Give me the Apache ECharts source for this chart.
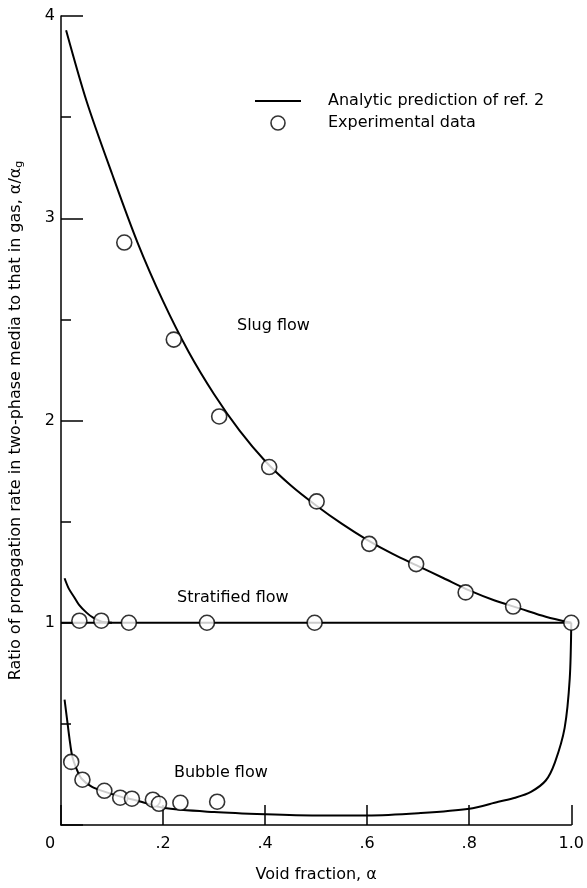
<!DOCTYPE html>
<html><head><meta charset="utf-8">
<script src="https://cdn.jsdelivr.net/npm/echarts@6/dist/echarts.min.js"></script>
<style>html,body{margin:0;padding:0;background:#fff}#c{width:587px;height:888px}</style>
</head><body><div id="c"></div>
<script>
// ---- data ----
const xTickLabels = ['0', '.2', '.4', '.6', '.8', '1.0'];
const yTickLabels = ['', '1', '2', '3', '4'];

const slugCurveX = [0.01, 0.05, 0.10, 0.15, 0.20, 0.25, 0.30, 0.35, 0.40, 0.45, 0.50, 0.55, 0.60, 0.65, 0.70, 0.75, 0.80, 0.85, 0.90, 0.95, 1.00];
const slugCurveY = [3.93, 3.58, 3.22, 2.88, 2.59, 2.34, 2.13, 1.95, 1.80, 1.68, 1.58, 1.49, 1.41, 1.34, 1.28, 1.22, 1.16, 1.11, 1.07, 1.03, 1.00];

const stratLineX = [0.0, 1.0];
const stratLineY = [1.0, 1.0];
const stratCurveX = [0.007, 0.015, 0.025, 0.035, 0.05, 0.063, 0.08, 0.10];
const stratCurveY = [1.22, 1.17, 1.13, 1.09, 1.05, 1.025, 1.005, 1.0];

const bubbleCurveX = [0.007, 0.012, 0.017, 0.022, 0.03, 0.04, 0.06, 0.085, 0.12, 0.15, 0.2, 0.3, 0.4, 0.5, 0.6, 0.7, 0.8, 0.857, 0.89, 0.921, 0.95, 0.968, 0.987, 0.997, 1.0];
const bubbleCurveY = [0.62, 0.52, 0.42, 0.34, 0.28, 0.23, 0.19, 0.165, 0.138, 0.12, 0.085, 0.064, 0.053, 0.047, 0.047, 0.058, 0.08, 0.115, 0.135, 0.164, 0.22, 0.31, 0.48, 0.725, 1.0];

const slugPtsX = [0.124, 0.221, 0.310, 0.408, 0.501, 0.604, 0.696, 0.793, 0.886, 1.0];
const slugPtsY = [2.88, 2.40, 2.02, 1.77, 1.60, 1.39, 1.29, 1.15, 1.08, 1.0];
const stratPtsX = [0.036, 0.079, 0.133, 0.286, 0.497];
const stratPtsY = [1.01, 1.01, 1.0, 1.0, 1.0];
const bubblePtsX = [0.020, 0.042, 0.085, 0.116, 0.139, 0.180, 0.192, 0.234, 0.306];
const bubblePtsY = [0.312, 0.224, 0.169, 0.135, 0.130, 0.125, 0.105, 0.110, 0.115];

const lineName = 'Analytic prediction of ref. 2';
const ptsName = 'Experimental data';

// ---- build ----
const zip = (xs, ys) => xs.map((x, i) => [x, ys[i]]);
const FONT = "'DejaVu Sans', sans-serif";
const curveStyle = { color: '#000', width: 2 };

function curve(xs, ys, smooth) {
  return {
    type: 'line', name: lineName, data: zip(xs, ys), showSymbol: false, symbol: 'none',
    smooth: smooth, lineStyle: curveStyle, itemStyle: { color: '#000' },
    z: 2, silent: true
  };
}
function pts(xs, ys) {
  return {
    type: 'scatter', name: ptsName, data: zip(xs, ys), symbol: 'circle', symbolSize: 15,
    itemStyle: { color: '#fff', borderColor: '#000', borderWidth: 1.6 }, z: 5, silent: true
  };
}

const chart = echarts.init(document.getElementById('c'), null, { renderer: 'canvas' });
chart.setOption({
  animation: false,
  backgroundColor: '#fff',
  textStyle: { fontFamily: FONT, color: '#000' },
  grid: { left: 60, right: 13, top: 16, bottom: 58 },
  legend: {
    orient: 'vertical', left: 250, top: 88, itemGap: 6,
    itemWidth: 46, itemHeight: 14,
    textStyle: { fontFamily: FONT, fontSize: 16, color: '#000', padding: [0, 0, 0, 22] },
    data: [
      { name: lineName, icon: 'path://M0,0 H46 V2 H0 Z', itemStyle: { color: '#000' } },
      { name: ptsName, icon: 'circle', itemStyle: { color: '#fff', borderColor: '#000', borderWidth: 1.6 } }
    ]
  },
  xAxis: {
    type: 'value', min: 0, max: 1, interval: 0.2,
    name: 'Void fraction, α', nameLocation: 'middle', nameGap: 42,
    nameTextStyle: { fontFamily: FONT, fontSize: 16, color: '#000' },
    axisLine: { show: true, lineStyle: { color: '#000', width: 1.5 } },
    axisTick: { show: true, inside: true, length: 20, lineStyle: { color: '#000', width: 1.5 } },
    axisLabel: { color: '#000', fontSize: 16, fontFamily: FONT, margin: 11,
      formatter: (v) => {
        const t = xTickLabels[Math.round(v * 5)];
        return v === 0 ? '{z|' + t + '}' : t;
      },
      rich: { z: { fontSize: 16, fontFamily: FONT, color: '#000', padding: [0, 22, 0, 0] } } },
    splitLine: { show: false }
  },
  yAxis: {
    type: 'value', min: 0, max: 4, interval: 1,
    name: 'Ratio of propagation rate in two-phase media to that in gas, α/α{sub|g}',
    nameLocation: 'middle', nameGap: 36,
    nameTextStyle: { fontFamily: FONT, fontSize: 16, color: '#000',
      rich: { sub: { fontFamily: FONT, fontSize: 11, color: '#000', padding: [7, 0, 0, 0] } } },
    axisLine: { show: true, lineStyle: { color: '#000', width: 1.5 } },
    axisTick: { show: true, inside: true, length: 22, lineStyle: { color: '#000', width: 1.5 } },
    minorTick: { show: true, splitNumber: 2, length: 10, lineStyle: { color: '#000', width: 1.5 } },
    axisLabel: { color: '#000', fontSize: 16, fontFamily: FONT, margin: 6,
      formatter: (v) => yTickLabels[Math.round(v)] },
    splitLine: { show: false },
    minorSplitLine: { show: false }
  },
  graphic: [
    { type: 'text', left: 237, top: 318, style: { text: 'Slug flow', font: '16px ' + FONT, fill: '#000' } },
    { type: 'text', left: 177, top: 590, style: { text: 'Stratified flow', font: '16px ' + FONT, fill: '#000' } },
    { type: 'text', left: 174, top: 765, style: { text: 'Bubble flow', font: '16px ' + FONT, fill: '#000' } }
  ],
  series: [
    curve(slugCurveX, slugCurveY, 0.3),
    curve(stratLineX, stratLineY, false),
    curve(stratCurveX, stratCurveY, 0.3),
    curve(bubbleCurveX, bubbleCurveY, 0.3),
    pts(slugPtsX, slugPtsY),
    pts(stratPtsX, stratPtsY),
    pts(bubblePtsX, bubblePtsY)
  ]
});
</script>
</body></html>
